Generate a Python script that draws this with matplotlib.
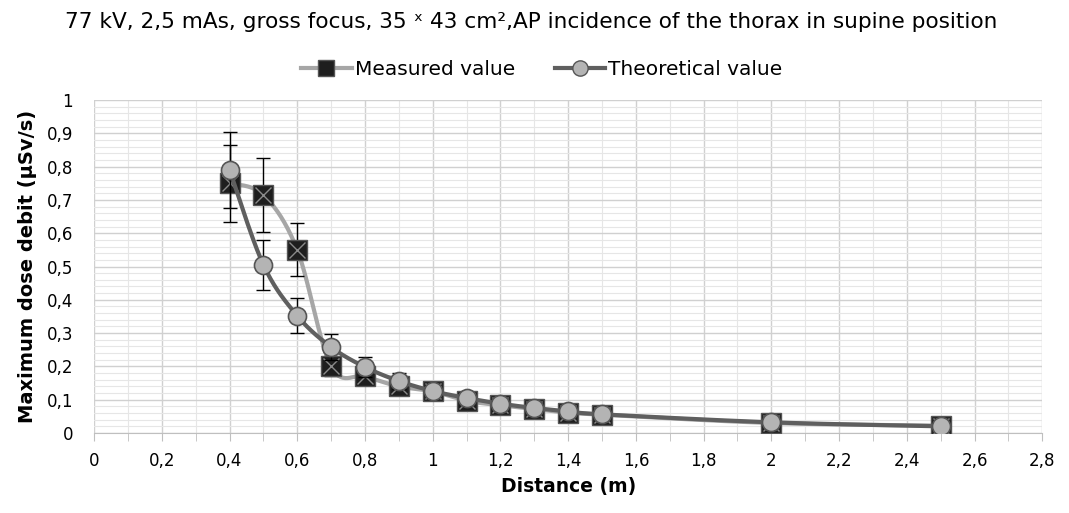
import matplotlib
matplotlib.use("Agg")
import matplotlib.pyplot as plt
from matplotlib.ticker import MultipleLocator, FuncFormatter
import numpy as np

# data
distance = [0.4, 0.5, 0.6, 0.7, 0.8, 0.9, 1.0, 1.1, 1.2, 1.3, 1.4, 1.5, 2.0, 2.5]
measured = [0.75, 0.715, 0.55, 0.20, 0.17, 0.14, 0.125, 0.097, 0.083, 0.072, 0.061, 0.055, 0.03, 0.022]
measured_err = [0.115, 0.11, 0.08, 0.03, 0.025, 0.02, 0.018, 0.014, 0.012, 0.011, 0.009, 0.008, 0.004, 0.003]
theoretical = [0.79, 0.505, 0.352, 0.258, 0.198, 0.156, 0.126, 0.105, 0.088, 0.075, 0.065, 0.056, 0.032, 0.02]
theoretical_err = [0.115, 0.075, 0.053, 0.039, 0.03, 0.023, 0.019, 0.016, 0.013, 0.011, 0.01, 0.008, 0.005, 0.003]

title = "77 kV, 2,5 mAs, gross focus, 35 \u02e3 43 cm\u00b2,AP incidence of the thorax in supine position"


def smooth(x, y, n=30):
    # excel-like smoothed line (catmull-rom as bezier)
    x = np.asarray(x, float)
    y = np.asarray(y, float)
    px = np.concatenate([[x[0]], x, [x[-1]]])
    py = np.concatenate([[y[0]], y, [y[-1]]])
    xs, ys = [], []
    t = np.linspace(0, 1, n)
    for i in range(1, len(px) - 2):
        p0 = np.array([px[i - 1], py[i - 1]])
        p1 = np.array([px[i], py[i]])
        p2 = np.array([px[i + 1], py[i + 1]])
        p3 = np.array([px[i + 2], py[i + 2]])
        c1 = p1 + (p2 - p0) / 6
        c2 = p2 - (p3 - p1) / 6
        b = ((1 - t) ** 3)[:, None] * p1 + (3 * (1 - t) ** 2 * t)[:, None] * c1 \
            + (3 * (1 - t) * t ** 2)[:, None] * c2 + (t ** 3)[:, None] * p2
        xs.extend(b[:, 0])
        ys.extend(b[:, 1])
    return xs, ys


fig = plt.figure(figsize=(10.69, 5.13), dpi=100)
ax = fig.add_axes([0.088, 0.156, 0.887, 0.649])

light = '#a6a6a6'
dark = '#5f5f5f'

mx, my = smooth(distance, measured)
tx, ty = smooth(distance, theoretical)
ax.plot(mx, my, color=light, lw=3, zorder=3)
ax.errorbar(distance, measured, yerr=measured_err, fmt='none', ecolor='black', elinewidth=1, capsize=5, zorder=4)
ax.plot(distance, measured, ls='none', marker='s', ms=14, mfc='#1e1e1e', mec='#555555', mew=1, zorder=5)
ax.plot(distance, measured, ls='none', marker='x', ms=11, mec='#8a8a8a', mew=1, zorder=5)

ax.plot(tx, ty, color=dark, lw=3, zorder=6)
ax.errorbar(distance, theoretical, yerr=theoretical_err, fmt='none', ecolor='black', elinewidth=1, capsize=5, zorder=7)
ax.plot(distance, theoretical, ls='none', marker='o', ms=13, mfc='#b4b4b4', mec='#555555', mew=1.2, zorder=8)

# legend proxies
h1, = ax.plot([], [], color=light, lw=3, marker='s', ms=12, mfc='#1e1e1e', mec='#555555')
h2, = ax.plot([], [], color=dark, lw=3, marker='o', ms=11, mfc='#b4b4b4', mec='#555555')
fig.legend([h1, h2], ['Measured value', 'Theoretical value'], loc='center', bbox_to_anchor=(0.507, 0.864),
           ncol=2, frameon=False, fontsize=14.5, handlelength=2.5, handletextpad=0.15, columnspacing=2.0)

# title, fitted to the width it has in the picture (~933 px)
t = fig.text(0.497, 0.958, title, ha='center', va='center', fontsize=15)
w = t.get_window_extent(renderer=fig.canvas.get_renderer()).width
t.set_fontsize(15 * 933 / w)

ax.set_xlim(0, 2.8)
ax.set_ylim(0, 1)
ax.xaxis.set_major_locator(MultipleLocator(0.2))
ax.xaxis.set_minor_locator(MultipleLocator(0.1))
ax.yaxis.set_major_locator(MultipleLocator(0.1))
ax.yaxis.set_minor_locator(MultipleLocator(0.02))
fmt = FuncFormatter(lambda v, p: ('%g' % round(v, 2)).replace('.', ','))
ax.xaxis.set_major_formatter(fmt)
ax.yaxis.set_major_formatter(fmt)
ax.grid(which='major', color='#d0d0d0', lw=1)
ax.grid(which='minor', color='#e6e6e6', lw=0.8)
ax.set_axisbelow(True)
for s in ['top', 'right', 'left']:
    ax.spines[s].set_visible(False)
ax.spines['bottom'].set_color('#bfbfbf')
ax.tick_params(axis='x', which='both', direction='out', length=6, color='#bfbfbf', labelsize=12, pad=8)
ax.tick_params(axis='y', which='both', length=0, labelsize=12, pad=15)
ax.set_xlabel('Distance (m)', fontsize=13.5, fontweight='bold', labelpad=5)
ax.set_ylabel('Maximum dose debit (\u00b5Sv/s)', fontsize=14, fontweight='bold', labelpad=7)

fig.savefig('out.png', dpi=100)
